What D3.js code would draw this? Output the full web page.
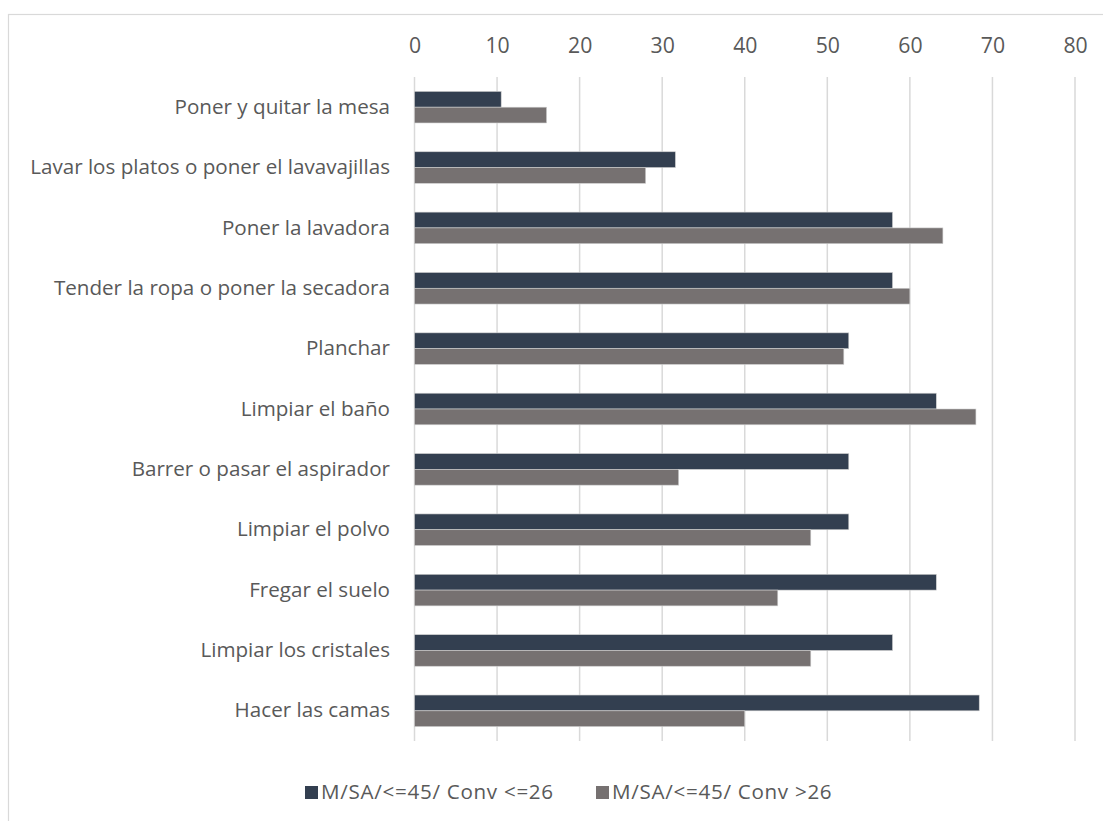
<!DOCTYPE html>
<html>
<head>
<meta charset="utf-8">
<script src="https://cdn.jsdelivr.net/npm/d3@7"></script>
<style>
  html, body { margin: 0; padding: 0; background: #fff; }
  svg { display: block; }
  text { font-family: "Open Sans", Lato, sans-serif; fill: #595959; }
</style>
</head>
<body>
<svg id="chart" width="1103" height="821"></svg>
<script>
// Household tasks, share (%) by group
const categories = [
  "Poner y quitar la mesa",
  "Lavar los platos o poner el lavavajillas",
  "Poner la lavadora",
  "Tender la ropa o poner la secadora",
  "Planchar",
  "Limpiar el baño",
  "Barrer o pasar el aspirador",
  "Limpiar el polvo",
  "Fregar el suelo",
  "Limpiar los cristales",
  "Hacer las camas"
];
const seriesNames = ["M/SA/<=45/ Conv <=26", "M/SA/<=45/ Conv >26"];
const seriesA = [10.5, 31.6, 57.9, 57.9, 52.6, 63.2, 52.6, 52.6, 63.2, 57.9, 68.4];
const seriesB = [16, 28, 64, 60, 52, 68, 32, 48, 44, 48, 40];
const tickValues = [0, 10, 20, 30, 40, 50, 60, 70, 80];
const colors = ["#333f50", "#767171"];

const FONT = "'Open Sans', Lato, sans-serif";
const svg = d3.select("#chart");

// outer chart frame (top and left edges visible)
svg.append("rect")
  .attr("x", 8.5).attr("y", 14.5)
  .attr("width", 1200).attr("height", 900)
  .attr("fill", "none").attr("stroke", "#d9d9d9").attr("stroke-width", 1.2);

const plot = { left: 414.5, right: 1075, top: 77, bottom: 741 };

const x = d3.scaleLinear().domain([0, 80]).range([plot.left, plot.right]);
const y = d3.scaleBand().domain(categories).range([plot.top, plot.bottom]).paddingInner(0.477).paddingOuter(0.2385);
const inner = d3.scaleBand().domain([0, 1]).range([0, y.bandwidth()]);

// font size fitted so the longest category label spans its slot
const probe = svg.append("text").attr("font-size", 18).style("font-family", FONT).text(categories[1]);
const w18 = probe.node().getComputedTextLength();
probe.remove();
const fs = Math.max(14, Math.min(22, 18 * 360 / w18));

// vertical gridlines
svg.append("g").selectAll("line").data(tickValues).join("line")
  .attr("x1", d => x(d)).attr("x2", d => x(d))
  .attr("y1", plot.top).attr("y2", plot.bottom)
  .attr("stroke", "#d9d9d9").attr("stroke-width", 1.5);

// top axis labels
const xAxis = d3.axisTop(x).tickValues(tickValues).tickSize(0).tickPadding(0);
const gx = svg.append("g").attr("transform", "translate(0,53)").call(xAxis);
gx.select(".domain").remove();
gx.selectAll("text").attr("font-size", fs * 1.03).attr("fill", "#595959").style("font-family", FONT);

// category labels
const yAxis = d3.axisLeft(y).tickSize(0).tickPadding(0);
const gy = svg.append("g").attr("transform", "translate(390,0)").call(yAxis);
gy.select(".domain").remove();
gy.selectAll("text").attr("font-size", fs).attr("fill", "#595959").style("font-family", FONT);

// bars
[seriesA, seriesB].forEach((vals, si) => {
  svg.append("g").selectAll("rect").data(vals).join("rect")
    .attr("x", x(0))
    .attr("y", (d, i) => y(categories[i]) + inner(si))
    .attr("width", d => x(d) - x(0))
    .attr("height", inner.bandwidth())
    .attr("fill", colors[si])
    .attr("stroke", "#d0d0d0").attr("stroke-width", 0.6);
});

// legend
const legendX = [305, 596];
const lg = svg.append("g");
seriesNames.forEach((name, i) => {
  lg.append("rect").attr("x", legendX[i]).attr("y", 786).attr("width", 13).attr("height", 13)
    .attr("fill", colors[i]);
  lg.append("text").attr("x", legendX[i] + 16).attr("y", 799)
    .attr("font-size", fs).attr("letter-spacing", 0.7).style("font-family", FONT).text(name);
});
</script>
</body>
</html>
